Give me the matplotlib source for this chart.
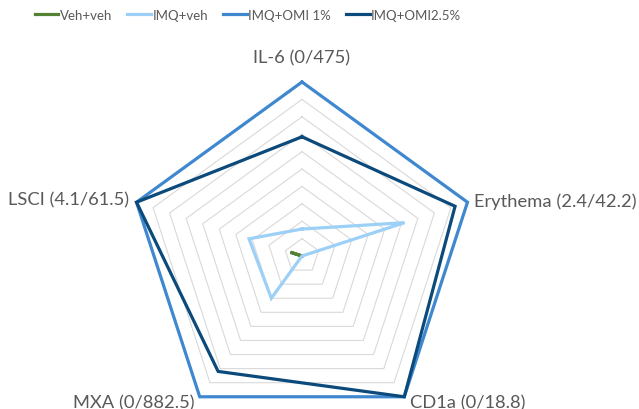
import numpy as np
import matplotlib
matplotlib.use("Agg")
import matplotlib.pyplot as plt

# ---- data (normalised 0..1 on each axis; labels give min/max) ----
axis_labels = ['IL-6 (0/475)', 'Erythema (2.4/42.2)', 'CD1a (0/18.8)',
               'MXA (0/882.5)', 'LSCI (4.1/61.5)']
series_names = ['Veh+veh', 'IMQ+veh', 'IMQ+OMI 1%', 'IMQ+OMI2.5%']
veh_veh = [0.0, 0.0, 0.0, 0.0, 0.07]
imq_veh = [0.155, 0.62, 0.0, 0.30, 0.32]
imq_omi1 = [1.0, 1.0, 1.0, 1.0, 1.0]
imq_omi25 = [0.685, 0.925, 1.0, 0.82, 1.0]
grid_levels = [0.1, 0.2, 0.3, 0.4, 0.5, 0.6, 0.7, 0.8, 0.9, 1.0]

colors = ['#548235', '#9DD0F7', '#3F88D0', '#0B4A7B']
text_color = '#595959'
font = ['Lato', 'DejaVu Sans']

W, H = 639, 410
fig = plt.figure(figsize=(W / 100, H / 100), dpi=100)
cx, cy, R = 302, 257, 174
ax = fig.add_axes([(cx - R) / W, (H - cy - R) / H, 2 * R / W, 2 * R / H],
                  projection='polar')
ax.set_theta_offset(np.pi / 2)
ax.set_theta_direction(-1)
ax.set_ylim(0, 1)
ax.set_xticks([])
ax.set_yticks([])
ax.grid(False)
ax.spines['polar'].set_visible(False)
ax.patch.set_visible(False)

n = len(axis_labels)
theta = np.linspace(0, 2 * np.pi, n, endpoint=False)
theta_c = np.append(theta, theta[0])

for lv in grid_levels:
    ax.plot(theta_c, [lv] * (n + 1), color='#D9D9D9', lw=0.8, zorder=1,
            clip_on=False)

all_series = [veh_veh, imq_veh, imq_omi1, imq_omi25]
for name, vals, c in zip(series_names, all_series, colors):
    v = list(vals) + [vals[0]]
    ax.plot(theta_c, v, color=c, lw=2.3, label=name, zorder=3,
            clip_on=False, solid_joinstyle='miter')

# axis labels
offsets = [((0, 12), 'center', 'bottom'),
           ((5, 1), 'left', 'center'),
           ((4, -4), 'left', 'center'),
           ((-4, -4), 'right', 'center'),
           ((-5, 2), 'right', 'center')]
for t, lab, (off, ha, va) in zip(theta, axis_labels, offsets):
    ax.annotate(lab, xy=(t, 1.0), xytext=off, textcoords='offset points',
                ha=ha, va=va, fontsize=13.2, color=text_color, family=font,
                annotation_clip=False)

leg = fig.legend(loc='center', bbox_to_anchor=(0.388, 1 - 16 / H), ncol=4,
                 frameon=False, handlelength=1.8, handletextpad=0.1,
                 columnspacing=1.15,
                 prop={'family': font, 'size': 9.5})
for txt in leg.get_texts():
    txt.set_color(text_color)

fig.savefig('out.png', dpi=100)
